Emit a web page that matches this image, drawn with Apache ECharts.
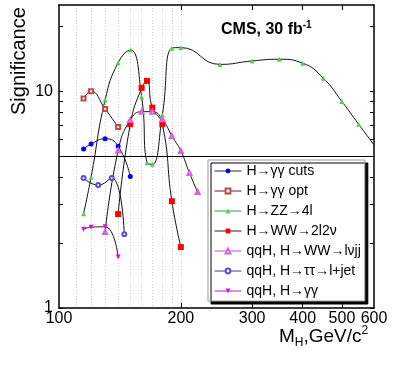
<!DOCTYPE html>
<html>
<head>
<meta charset="UTF-8">
<script src="https://cdn.jsdelivr.net/npm/echarts@6/dist/echarts.min.js"></script>
<style>
  html, body { margin: 0; padding: 0; background: #fff; }
  #chart { width: 418px; height: 367px; }
</style>
</head>
<body>
<div id="chart"></div>
<script>
// axis values
var xLabels = [100, 200, 300, 400, 500, 600];
var xTicks = [200, 300, 400, 500];
var xGuides = [110, 120, 130, 140, 150, 160, 170, 180, 190, 200];
var yLabels = [1, 10];
var yTicks = [1, 2, 3, 4, 5, 6, 7, 8, 9, 10, 20];
var discoveryLevel = 5;

// series values (M_H in GeV/c^2, significance)
var ggCutsMass = [115, 120, 130, 140, 150];
var ggCutsSig = [5.42, 5.71, 6.04, 5.58, 4.04];
var ggOptMass = [115, 120, 130, 140];
var ggOptSig = [9.25, 10.0, 8.29, 6.84];
var zzMass = [115, 120, 130, 140, 150, 160, 165, 170, 180, 190, 200, 250, 300, 350, 400, 450, 500, 550, 600];
var zzSig = [2.72, 4.01, 9.12, 13.55, 15.5, 9.41, 4.68, 4.60, 7.77, 15.8, 15.9, 13.3, 13.8, 14.05, 13.47, 11.48, 8.96, 7.04, 5.66];
var wwMass = [140, 150, 160, 165, 170, 180, 190, 200];
var wwSig = [2.71, 7.04, 10.36, 11.16, 8.40, 7.04, 3.11, 1.91];
var lvjjMass = [130, 140, 150, 160, 170, 180, 190, 200, 210, 220];
var lvjjSig = [2.24, 5.33, 7.37, 8.05, 8.05, 7.43, 6.22, 5.30, 4.20, 3.43];
var tautauMass = [115, 125, 135, 145];
var tautauSig = [3.98, 3.69, 3.98, 2.19];
var qqggMass = [115, 120, 130, 140];
var qqggSig = [2.31, 2.36, 2.37, 1.72];

var FONT = 'Liberation Sans, Arial, sans-serif';

function pts(mass, sig) {
  return mass.map(function (m, i) { return [m, sig[i]]; });
}

var zzData = pts(zzMass, zzSig);
// last value is where the fit curve leaves the frame, no marker there
zzData[zzData.length - 1] = { value: zzData[zzData.length - 1], symbol: 'none' };

var defs = [
  { name: 'H\u2192\u03b3\u03b3 cuts', data: pts(ggCutsMass, ggCutsSig), color: '#0000ff', line: '#202060', symbol: 'circle', size: 5 },
  { name: 'H\u2192\u03b3\u03b3 opt', data: pts(ggOptMass, ggOptSig), color: '#c04848', line: '#602020', symbol: 'emptyRect', size: 4 },
  { name: 'H\u2192ZZ\u21924l', data: zzData, color: '#5cc85c', line: '#40a040', symbol: 'triangle', size: 5 },
  { name: 'H\u2192WW\u21922l2\u03bd', data: pts(wwMass, wwSig), color: '#ff0000', line: '#501010', symbol: 'rect', size: 6 },
  { name: 'qqH, H\u2192WW\u2192l\u03bdjj', data: pts(lvjjMass, lvjjSig), color: '#d860e0', line: '#c050d0', symbol: 'emptyTriangle', size: 4 },
  { name: 'qqH, H\u2192\u03c4\u03c4\u2192l+jet', data: pts(tautauMass, tautauSig), color: '#5050d8', line: '#4040a0', symbol: 'emptyCircle', size: 4 },
  { name: 'qqH, H\u2192\u03b3\u03b3', data: pts(qqggMass, qqggSig), color: '#e010e0', line: '#c020c0', symbol: 'triangle', size: 5, rotate: 180 }
];

var series = defs.map(function (d, i) {
  var s = {
    name: d.name,
    type: 'line',
    xAxisIndex: 0,
    yAxisIndex: 0,
    data: d.data,
    smooth: 0.5,
    showAllSymbol: true,
    symbol: d.symbol,
    symbolSize: d.size,
    symbolRotate: d.rotate || 0,
    itemStyle: { color: d.color, borderWidth: 1 },
    lineStyle: { color: '#111', width: 1 },
    z: 3
  };
  if (i === 0) {
    s.markLine = {
      silent: true,
      symbol: 'none',
      label: { show: false },
      lineStyle: { color: '#000', type: 'solid', width: 1 },
      data: [{ yAxis: discoveryLevel }]
    };
  }
  return s;
});

var axisLine = { show: true, lineStyle: { color: '#000', width: 1.5 } };
var tickStyle = { color: '#000', width: 1 };

var option = {
  animation: false,
  backgroundColor: '#fff',
  grid: { left: 59, right: 44, top: 5, bottom: 59 },
  xAxis: [
    {
      type: 'log', min: 100, max: 600, position: 'bottom',
      axisLine: axisLine,
      axisTick: { inside: true, length: 5, lineStyle: tickStyle, customValues: xTicks },
      axisLabel: { customValues: xLabels, margin: 3, fontSize: 16, color: '#000', fontFamily: FONT },
      splitLine: { show: false }
    },
    {
      type: 'log', min: 100, max: 600, position: 'top',
      axisLine: axisLine,
      axisTick: { inside: true, length: 5, lineStyle: tickStyle, customValues: xTicks },
      axisLabel: { show: false },
      splitLine: { show: false }
    },
    {
      type: 'log', min: 100, max: 600, position: 'bottom',
      axisLine: { show: false },
      axisTick: { show: false, customValues: xGuides },
      axisLabel: { show: false },
      splitLine: { show: true, lineStyle: { color: '#cfcfcf', type: [1, 2], width: 1 } }
    }
  ],
  yAxis: [
    {
      type: 'log', min: 1, max: 25, position: 'left',
      axisLine: axisLine,
      axisTick: { inside: true, length: 4, lineStyle: tickStyle, customValues: yTicks },
      axisLabel: { customValues: yLabels, margin: 6, fontSize: 16, color: '#000', fontFamily: FONT },
      splitLine: { show: false }
    },
    {
      type: 'log', min: 1, max: 25, position: 'right',
      axisLine: axisLine,
      axisTick: { inside: true, length: 4, lineStyle: tickStyle, customValues: yTicks },
      axisLabel: { show: false },
      splitLine: { show: false }
    }
  ],
  legend: {
    orient: 'vertical',
    left: 208,
    top: 160,
    padding: [4, 4, 3, 6],
    itemWidth: 27,
    itemHeight: 6,
    itemGap: 6,
    backgroundColor: '#fff',
    borderColor: '#999',
    borderWidth: 1,
    borderRadius: 0,
    shadowColor: '#000',
    shadowBlur: 0,
    shadowOffsetX: 3,
    shadowOffsetY: 3,
    textStyle: { fontSize: 14, color: '#000', fontFamily: FONT },
    data: defs.map(function (d) {
      return { name: d.name, lineStyle: { color: d.line, width: 1 } };
    })
  },
  graphic: [
    {
      type: 'text', x: 29, y: 115, rotation: Math.PI / 2,
      style: { text: 'Significance', font: '20px ' + FONT, fill: '#000', textAlign: 'left', textVerticalAlign: 'bottom' }
    },
    {
      type: 'text', x: 221, y: 30,
      style: {
        text: 'CMS, 30 fb{sup|-1}',
        font: 'bold 16px ' + FONT,
        fill: '#000',
        textVerticalAlign: 'middle',
        rich: { sup: { fontSize: 10, fontWeight: 'bold', fontFamily: FONT, padding: [0, 0, 10, 0] } }
      }
    },
    {
      type: 'text', x: 279, y: 337,
      style: {
        text: 'M{sub|H},GeV/c{sup|2}',
        font: '19px ' + FONT,
        fill: '#000',
        textVerticalAlign: 'middle',
        rich: {
          sub: { fontSize: 12, fontFamily: FONT, padding: [12, 0, 0, 0] },
          sup: { fontSize: 12, fontFamily: FONT, padding: [0, 0, 12, 0] }
        }
      }
    }
  ],
  series: series
};

var chart = echarts.init(document.getElementById('chart'), null, { renderer: 'canvas' });
chart.setOption(option);
</script>
</body>
</html>
